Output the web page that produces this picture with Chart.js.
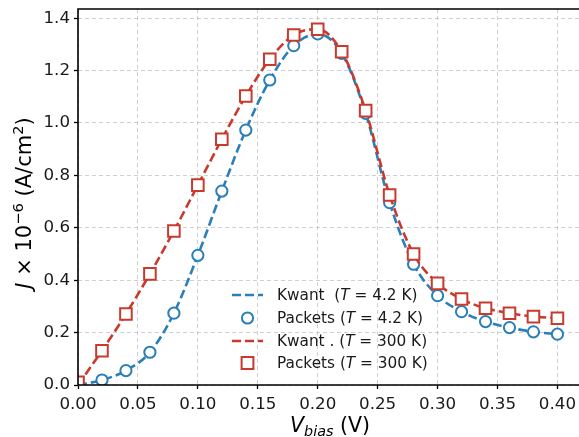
<!DOCTYPE html>
<html>
<head>
<meta charset="utf-8">
<script src="https://cdn.jsdelivr.net/npm/chart.js@4.4.1/dist/chart.umd.min.js"></script>
<style>
html,body{margin:0;padding:0;background:#fff;overflow:hidden;}
#wrap{position:relative;width:579px;height:437px;}
</style>
</head>
<body>
<div id="wrap"><canvas id="c" width="579" height="437"></canvas></div>
<script>
// ---- data ----
const vbias = [0.00,0.02,0.04,0.06,0.08,0.10,0.12,0.14,0.16,0.18,0.20,0.22,0.24,0.26,0.28,0.30,0.32,0.34,0.36,0.38,0.40];
const kwant42   = [0.000,0.019,0.055,0.125,0.274,0.495,0.740,0.973,1.164,1.295,1.340,1.266,1.037,0.696,0.461,0.341,0.280,0.242,0.219,0.203,0.194];
const packets42 = [null,0.019,0.055,0.125,0.274,0.495,0.740,0.973,1.164,1.295,1.340,1.266,1.037,0.696,0.461,0.341,0.280,0.242,0.219,0.203,0.194];
const kwant300   = [0.000,0.131,0.271,0.424,0.588,0.763,0.938,1.103,1.243,1.336,1.358,1.272,1.047,0.725,0.500,0.388,0.328,0.293,0.274,0.261,0.255];
const packets300 = [0.010,0.131,0.271,0.424,0.588,0.763,0.938,1.103,1.243,1.336,1.358,1.272,1.047,0.725,0.500,0.388,0.328,0.293,0.274,0.261,0.255];
const xTicks = [0.00,0.05,0.10,0.15,0.20,0.25,0.30,0.35,0.40];
const yTicks = [0.0,0.2,0.4,0.6,0.8,1.0,1.2,1.4];
const legendLabels = [
  [["Kwant  (",0],["T",1],[" = 4.2 K)",0]],
  [["Packets (",0],["T",1],[" = 4.2 K)",0]],
  [["Kwant . (",0],["T",1],[" = 300 K)",0]],
  [["Packets (",0],["T",1],[" = 300 K)",0]]
];

const BLUE = '#2b7fb9';
const RED  = '#c93a2e';
const FONT = 'DejaVu Sans';

function pts(xs, ys){ const o=[]; for(let i=0;i<xs.length;i++){ if(ys[i]!==null) o.push({x:xs[i],y:ys[i]}); } return o; }

function drawRich(ctx, parts, x, y, baseSize){
  let cx = x;
  for(const p of parts){
    const sz = baseSize*(p[2]||1);
    ctx.font = (p[1]?'italic ':'') + sz + 'px "' + FONT + '"';
    ctx.fillText(p[0], cx, y + (p[3]||0));
    cx += ctx.measureText(p[0]).width;
  }
  return cx - x;
}
function measureRich(ctx, parts, baseSize){
  let w=0;
  for(const p of parts){
    const sz = baseSize*(p[2]||1);
    ctx.font = (p[1]?'italic ':'') + sz + 'px "' + FONT + '"';
    w += ctx.measureText(p[0]).width;
  }
  return w;
}

const decor = {
  id:'decor',
  afterDraw(chart){
    const ctx = chart.ctx, a = chart.chartArea;
    ctx.save();
    // spines
    ctx.strokeStyle = '#000'; ctx.lineWidth = 1.6; ctx.setLineDash([]);
    ctx.beginPath();
    ctx.moveTo(a.right+2, a.top); ctx.lineTo(a.left, a.top); ctx.lineTo(a.left, a.bottom); ctx.lineTo(a.right+2, a.bottom);
    ctx.stroke();
    // legend
    const rows = [295, 318, 341, 363];
    const ds = chart.data.datasets;
    ctx.textBaseline = 'middle'; ctx.textAlign = 'left'; ctx.fillStyle = '#1a1a1a';
    for(let i=0;i<4;i++){
      const d = ds[i], y = rows[i];
      if(i%2===0){
        ctx.strokeStyle = d.borderColor; ctx.lineWidth = d.borderWidth; ctx.setLineDash(d.borderDash);
        ctx.beginPath(); ctx.moveTo(232,y); ctx.lineTo(263,y); ctx.stroke(); ctx.setLineDash([]);
      } else {
        ctx.strokeStyle = d.pointBorderColor; ctx.fillStyle = '#fff'; ctx.lineWidth = d.pointBorderWidth;
        if(d.pointStyle==='circle'){ ctx.beginPath(); ctx.arc(247.5,y,d.pointRadius,0,Math.PI*2); ctx.fill(); ctx.stroke(); }
        else { const r=d.pointRadius*0.72; ctx.beginPath(); ctx.rect(247.5-r,y-r,2*r,2*r); ctx.fill(); ctx.stroke(); }
        ctx.fillStyle = '#1a1a1a';
      }
      drawRich(ctx, legendLabels[i].map(p=>[p[0],p[1]]), 277, y+1, 15.3);
    }
    // x title
    ctx.fillStyle = '#000'; ctx.textBaseline = 'alphabetic';
    const xp = [["V",1,1,0],["bias",1,0.7,4],[" (V)",0,1,0]];
    const xs = 20.5;
    const xw = measureRich(ctx, xp, xs);
    drawRich(ctx, xp, 330 - xw/2, 432, xs);
    // y title
    const yp = [["J",1,1,0],[" \u00d7 10",0,1,0],["\u22126",0,0.7,-8.5],[" (A/cm",0,1,0],["2",0,0.7,-8.5],[")",0,1,0]];
    const ys = 21;
    const yw = measureRich(ctx, yp, ys);
    ctx.translate(31, 203); ctx.rotate(-Math.PI/2);
    drawRich(ctx, yp, -yw/2, 0, ys);
    ctx.restore();
  }
};

const grid = {color:'rgba(170,170,170,0.55)', lineWidth:1, drawTicks:true, tickLength:4, tickColor:'#000', tickWidth:1.3, tickBorderDash:[]};
new Chart(document.getElementById('c'), {
  type:'line',
  data:{
    datasets:[
      {label:'Kwant 4.2', data:pts(vbias,kwant42), borderColor:BLUE, borderWidth:2.6, borderDash:[9,4], pointRadius:0, fill:false, tension:0.3, cubicInterpolationMode:'monotone', order:4, clip:0},
      {label:'Packets 4.2', data:pts(vbias,packets42), showLine:false, pointStyle:'circle', pointRadius:5.6, pointBorderWidth:2, pointBorderColor:BLUE, pointBackgroundColor:'#fff', borderColor:BLUE, order:3, clip:0},
      {label:'Kwant 300', data:pts(vbias,kwant300), borderColor:RED, borderWidth:2.6, borderDash:[9,4], pointRadius:0, fill:false, tension:0.3, cubicInterpolationMode:'monotone', order:2, clip:0},
      {label:'Packets 300', data:pts(vbias,packets300), showLine:false, pointStyle:'rect', pointRadius:8.2, pointBorderWidth:2, pointBorderColor:RED, pointBackgroundColor:'#fff', borderColor:RED, order:1, clip:0}
    ]
  },
  options:{
    responsive:false, animation:false,
    layout:{autoPadding:false, padding:{top:9,right:0,left:0,bottom:0}},
    plugins:{legend:{display:false}, tooltip:{enabled:false}},
    scales:{
      x:{type:'linear', min:0, max:0.418,
        afterBuildTicks(s){ s.ticks = xTicks.map(v=>({value:v})); },
        afterFit(s){ s.height = 52; s.paddingLeft = 0; s.paddingRight = 0; },
        ticks:{callback:v=>v.toFixed(2), font:{family:FONT,size:16.7}, color:'#1a1a1a', padding:6, maxRotation:0, autoSkip:false},
        grid:grid, border:{display:false, dash:[4,3]}
      },
      y:{min:0, max:1.435,
        afterBuildTicks(s){ s.ticks = yTicks.map(v=>({value:v})); },
        afterFit(s){ s.width = 78; s.paddingTop = 0; s.paddingBottom = 0; },
        ticks:{callback:v=>v.toFixed(1), font:{family:FONT,size:16.7}, color:'#1a1a1a', padding:4, autoSkip:false},
        grid:grid, border:{display:false, dash:[4,3]}
      }
    }
  },
  plugins:[decor]
});
</script>
</body>
</html>
